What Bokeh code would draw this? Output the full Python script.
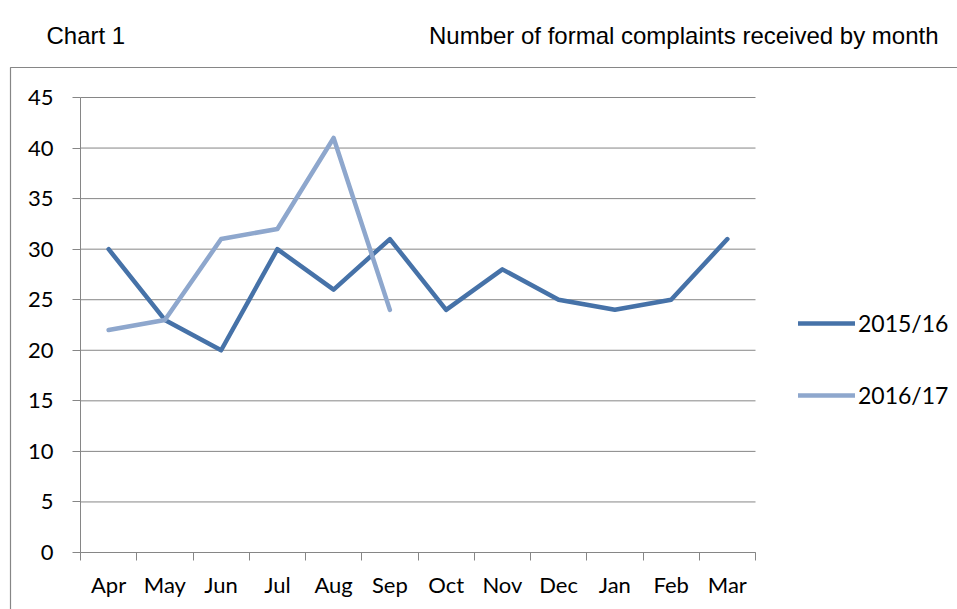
from bokeh.plotting import figure
from bokeh.models import (Range1d, FixedTicker, Label, Legend, LegendItem, BoxAnnotation)
from bokeh.embed import file_html
from bokeh.resources import INLINE

months = ["Apr", "May", "Jun", "Jul", "Aug", "Sep", "Oct", "Nov", "Dec", "Jan", "Feb", "Mar"]
series_2015 = [30, 23, 20, 30, 26, 31, 24, 28, 25, 24, 25, 31]
series_2016 = [22, 23, 31, 32, 41, 24]
y_ticks = [0, 5, 10, 15, 20, 25, 30, 35, 40, 45]
title_left = "Chart 1"
title_right = "Number of formal complaints received by month"

FONT = "Lato"
GRID = "#868686"
BOX = "#868686"
DARK = "#4672A8"
LIGHT = "#8EA7CD"

W, H = 957, 609
# plot area in canvas pixels
PX0, PX1, PY_TOP, PY_BOT = 80, 755, 97, 552
n = len(months)
ymax = y_ticks[-1]
xs = (PX1 - PX0) / n
ys = (PY_BOT - PY_TOP) / ymax
x_range = Range1d(-PX0 / xs, n + (W - PX1) / xs)
y_range = Range1d(-(H - PY_BOT) / ys, ymax + PY_TOP / ys)

p = figure(width=W, height=H, output_backend="svg", toolbar_location=None,
           x_range=x_range, y_range=y_range,
           min_border_left=0, min_border_right=0, min_border_top=0, min_border_bottom=0)
p.outline_line_color = None
p.background_fill_color = "white"
p.border_fill_color = "white"
p.xgrid.visible = False
p.ygrid.visible = False

# y axis
p.yaxis.fixed_location = 0
p.yaxis.bounds = (0, ymax)
p.yaxis.ticker = FixedTicker(ticks=y_ticks)
p.yaxis.axis_line_color = GRID
p.yaxis.major_tick_line_color = GRID
p.yaxis.major_tick_out = 8
p.yaxis.major_tick_in = 0
p.yaxis.minor_tick_line_color = None
p.yaxis.major_label_text_font = FONT
p.yaxis.major_label_text_font_size = "22px"
p.yaxis.major_label_text_color = "black"
p.yaxis.major_label_standoff = 19

# horizontal gridlines over the category span
p.segment(x0=0, x1=n, y0=y_ticks, y1=y_ticks, line_color=GRID, line_width=1, level="underlay")

# x axis: labels at centres, tick marks at boundaries
centres = [i + 0.5 for i in range(n)]
bounds = [i for i in range(n + 1)]
p.xaxis.fixed_location = 0
p.xaxis.bounds = (0, n)
p.xaxis.ticker = FixedTicker(ticks=centres, minor_ticks=bounds)
p.xaxis.major_label_overrides = {c: m for c, m in zip(centres, months)}
p.xaxis.axis_line_color = GRID
p.xaxis.major_tick_line_color = None
p.xaxis.minor_tick_line_color = GRID
p.xaxis.minor_tick_out = 8
p.xaxis.minor_tick_in = 0
p.xaxis.major_label_text_font = FONT
p.xaxis.major_label_text_font_size = "22px"
p.xaxis.major_label_text_color = "black"
p.xaxis.major_label_standoff = 10

r1 = p.line(centres[:len(series_2015)], series_2015, line_color=DARK, line_width=4.5,
            line_join="round", line_cap="round")
r2 = p.line(centres[:len(series_2016)], series_2016, line_color=LIGHT, line_width=4.5,
            line_join="round", line_cap="round")

legend = Legend(items=[LegendItem(label="2015/16", renderers=[r1]),
                       LegendItem(label="2016/17", renderers=[r2])],
                location=(798, H - 410), orientation="vertical",
                glyph_width=57, glyph_height=30, label_standoff=3, spacing=42,
                padding=0, margin=0, border_line_color=None, background_fill_alpha=0,
                label_text_font=FONT, label_text_font_size="23px", label_height=30,
                label_text_color="black")
p.add_layout(legend, "center")

# titles
p.add_layout(Label(x=46, y=H - 35, x_units="screen", y_units="screen", text=title_left,
                   text_font="Liberation Sans", text_font_size="24px", text_color="black",
                   text_baseline="alphabetic"))
p.add_layout(Label(x=938, y=H - 35, x_units="screen", y_units="screen", text=title_right,
                   text_font="Liberation Sans", text_font_size="24px", text_color="black",
                   text_baseline="alphabetic", text_align="right"))

# outer chart border (runs off the right and bottom of the page)
p.add_layout(BoxAnnotation(left=10, right=W + 50, top=H - 67, bottom=-50,
                           left_units="screen", right_units="screen",
                           top_units="screen", bottom_units="screen",
                           fill_alpha=0, line_color=BOX, line_alpha=1.0, line_width=1.2))

open("out.html", "w").write(file_html(p, INLINE))
